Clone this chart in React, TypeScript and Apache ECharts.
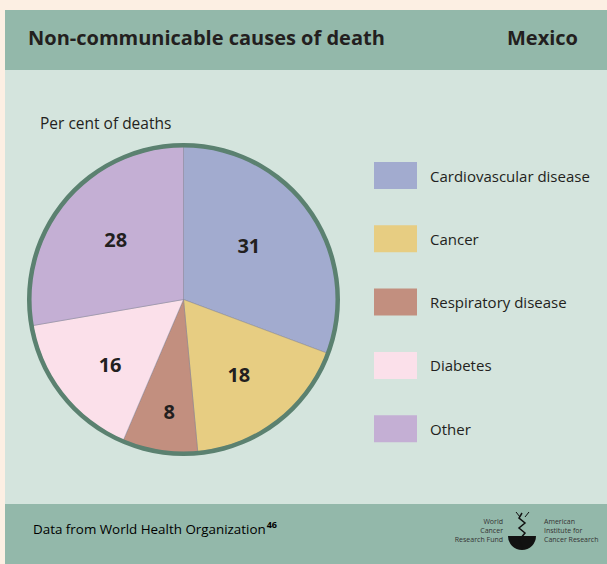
import React, { useEffect, useRef } from "react";
import * as echarts from "echarts";

const categories = ["Cardiovascular disease", "Cancer", "Respiratory disease", "Diabetes", "Other"];
const values = [31, 18, 8, 16, 28];
const colors = ["#a2abcf", "#e7cd82", "#c28f7f", "#fbe0ea", "#c4afd4"];
const title = "Non-communicable causes of death";
const country = "Mexico";
const unitLabel = "Per cent of deaths";
const source = "Data from World Health Organization";
const sourceRef = "46";

const FONT = "'Open Sans', 'Noto Sans', sans-serif";
const labelShift = [
  [0, -9],
  [7, 12],
  [-2, 33],
  [-11, 16],
  [-7, -9],
];

export default function App() {
  const ref = useRef<HTMLDivElement>(null);
  useEffect(() => {
    document.body.style.margin = "0";
    const chart = echarts.init(ref.current!, null, { renderer: "svg" });
    const cx = 183.5;
    const cy = 299.5;
    chart.setOption({
      animation: false,
      backgroundColor: "#fcefe3",
      graphic: [
        { type: "rect", z: -10, shape: { x: 5, y: 10, width: 602, height: 554 }, style: { fill: "#d4e4dd" } },
        { type: "rect", z: -9, shape: { x: 5, y: 10, width: 602, height: 60 }, style: { fill: "#93b8aa" } },
        { type: "rect", z: -9, shape: { x: 5, y: 504, width: 602, height: 60 }, style: { fill: "#93b8aa" } },
        {
          type: "text", left: 28, top: 27,
          style: { text: title, font: `bold 20px ${FONT}`, fill: "#231f20" },
        },
        {
          type: "text", right: 29, top: 27,
          style: { text: country, font: `bold 20px ${FONT}`, fill: "#231f20" },
        },
        {
          type: "text", left: 40, top: 115,
          style: { text: unitLabel, font: `15.5px ${FONT}`, fill: "#231f20" },
        },
        {
          type: "text", left: 33, top: 520,
          style: {
            text: `{a|${source}}{s|${sourceRef}}`,
            rich: {
              a: { fontFamily: FONT, fontSize: 13.4, color: "#231f20" },
              s: { fontFamily: FONT, fontSize: 9, fontWeight: "bold", color: "#231f20", padding: [0, 0, 8, 1] },
            },
          },
        },
        // logo
        {
          type: "text", x: 503, y: 517,
          style: { text: "World\nCancer\nResearch Fund", font: `7px ${FONT}`, fill: "#333", align: "right", lineHeight: 9 },
        },
        {
          type: "text", x: 544, y: 517,
          style: { text: "American\nInstitute for\nCancer Research", font: `7px ${FONT}`, fill: "#333", align: "left", lineHeight: 9 },
        },
        {
          type: "sector",
          shape: { cx: 522, cy: 536, r: 14, r0: 0, startAngle: 0, endAngle: Math.PI },
          style: { fill: "#111" },
        },
        {
          type: "polyline",
          shape: { points: [[522, 513], [519, 518], [525, 523], [519, 528], [525, 533], [519, 540], [523, 548]] },
          style: { stroke: "#111", lineWidth: 1.5, fill: "none" },
        },
        {
          type: "polyline",
          shape: { points: [[516, 512], [520, 517]] },
          style: { stroke: "#111", lineWidth: 1 },
        },
        {
          type: "polyline",
          shape: { points: [[529, 512], [525, 517]] },
          style: { stroke: "#111", lineWidth: 1 },
        },
      ],
      legend: {
        orient: "vertical",
        left: 374,
        top: 162,
        padding: 0,
        itemWidth: 43,
        itemHeight: 27,
        itemGap: 36.3,
        icon: "rect",
        selectedMode: false,
        data: categories,
        itemStyle: { borderWidth: 0 },
        textStyle: { fontFamily: FONT, fontSize: 15, color: "#231f20", padding: [0, 0, 0, 8] },
      },
      series: [
        {
          type: "pie",
          center: [cx, cy],
          radius: [0, 153],
          startAngle: 90,
          clockwise: true,
          silent: true,
          z: 2,
          data: categories.map((name, i) => ({ name, value: values[i], itemStyle: { color: colors[i] } })),
          itemStyle: { borderColor: "rgba(120,120,140,0.4)", borderWidth: 1 },
          label: {
            show: true,
            position: "inside",
            formatter: "{c}",
            fontFamily: FONT,
            fontSize: 20,
            fontWeight: "bold",
            color: "#231f20",
          },
          labelLine: { show: false },
          labelLayout: (p: any) => ({ dx: labelShift[p.dataIndex][0], dy: labelShift[p.dataIndex][1] }),
        },
        {
          type: "pie",
          center: [cx, cy],
          radius: [152, 156.5],
          silent: true,
          z: 3,
          label: { show: false },
          labelLine: { show: false },
          itemStyle: { color: "#5b8170" },
          data: [{ name: "ring", value: 1 }],
        },
      ],
    });
    return () => chart.dispose();
  }, []);
  return <div ref={ref} style={{ width: 607, height: 564 }} />;
}
